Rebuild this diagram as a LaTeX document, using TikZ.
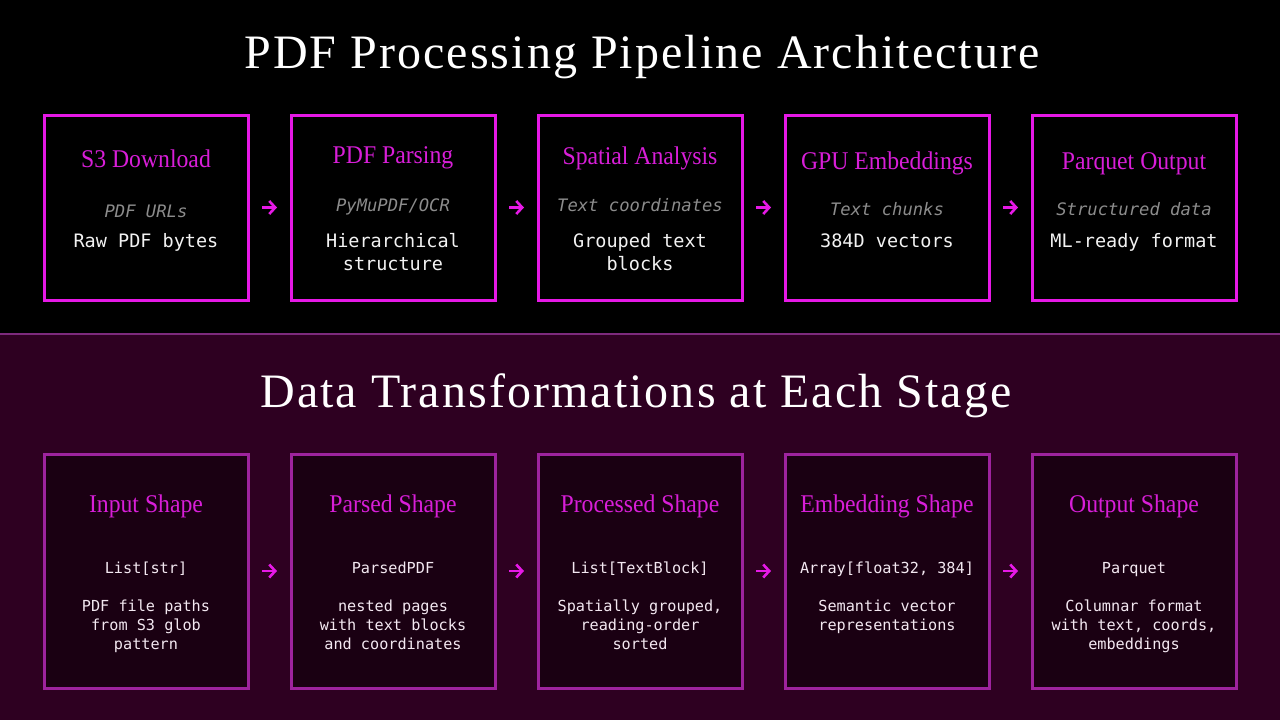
\documentclass[tikz,border=0pt]{standalone}
\usepackage{fontspec}
\setmainfont{Liberation Serif}
\setmonofont{DejaVu Sans Mono}
\usetikzlibrary{arrows.meta}
\definecolor{magtop}{HTML}{E619E6}
\definecolor{magtxt}{HTML}{D81ED8}
\definecolor{magbot}{HTML}{9E239E}
\definecolor{botbg}{HTML}{2E0021}
\definecolor{botfill}{HTML}{1A0012}
\definecolor{sepline}{HTML}{7D2A7D}
\definecolor{greytxt}{HTML}{8C8C8C}
\definecolor{whitetxt}{HTML}{F2F2F2}
\definecolor{pinkwhite}{HTML}{F3E8F1}
\newfontfamily\titlefont[LetterSpace=4.3]{Liberation Serif}
\newfontfamily\headfont[FakeStretch=0.93]{Liberation Serif}
\tikzset{
  topbox/.style={draw=magtop, line width=3pt, fill=black, minimum width=204pt, minimum height=185pt, inner sep=0pt, outer sep=0pt},
  botbox/.style={draw=magbot, line width=3pt, fill=botfill, minimum width=204pt, minimum height=234pt, inner sep=0pt, outer sep=0pt},
  bigtitle/.style={anchor=base, text=white, inner sep=0pt, font=\titlefont\fontsize{48}{52}\selectfont},
  boxhead/.style={anchor=base, text=magtxt, inner sep=0pt, font=\headfont\fontsize{25.5}{28}\selectfont},
  subital/.style={anchor=base, text=greytxt, inner sep=0pt, font=\ttfamily\itshape\fontsize{17.2}{20}\selectfont},
  maintxt/.style={anchor=base, text=whitetxt, inner sep=0pt, align=center, font=\ttfamily\fontsize{18.5}{23.3}\selectfont},
  typetxt/.style={anchor=base, text=pinkwhite, inner sep=0pt, font=\ttfamily\fontsize{15.2}{19}\selectfont},
  desctxt/.style={anchor=base, text=pinkwhite, inner sep=0pt, align=center, font=\ttfamily\fontsize{15.2}{19}\selectfont},
  flowarrow/.style={draw=magtop, line width=2.6pt, shorten <=14pt, shorten >=14pt, -{Straight Barb[length=6pt,width=13pt]}},
}
\begin{document}
\begin{tikzpicture}[x=1pt,y=-1pt]
\useasboundingbox (0,0) rectangle (1280,720);
\fill[black] (0,0) rectangle (1280,334);
\fill[botbg] (0,334) rectangle (1280,720);
\draw[sepline, line width=2.5pt] (0,334) -- (1280,334);

\node[bigtitle] (title1) at (642,68) {PDF Processing Pipeline Architecture};
\node[bigtitle] (title2) at (636,407) {Data Transformations at Each Stage};

% top boxes
\node[topbox] (t1) at (146,207.5) {};
\node[topbox] (t2) at (393,207.5) {};
\node[topbox] (t3) at (640,207.5) {};
\node[topbox] (t4) at (887,207.5) {};
\node[topbox] (t5) at (1134,207.5) {};

\node[boxhead] (t1h) at (146,167) {S3 Download};
\node[boxhead] (t2h) at (393,163) {PDF Parsing};
\node[boxhead] (t3h) at (640,164) {Spatial Analysis};
\node[boxhead] (t4h) at (887,169) {GPU Embeddings};
\node[boxhead] (t5h) at (1134,169) {Parquet Output};

\node[subital] (t1s) at (146,217) {PDF URLs};
\node[subital] (t2s) at (393,211) {PyMuPDF/OCR};
\node[subital] (t3s) at (640,211) {Text coordinates};
\node[subital] (t4s) at (887,215) {Text chunks};
\node[subital] (t5s) at (1134,215) {Structured data};

% base anchor of a multi-line node = baseline of its last line
\node[maintxt] (t1m) at (146,247) {Raw PDF bytes};
\node[maintxt] (t2m) at (393,270.3) {Hierarchical\\structure};
\node[maintxt] (t3m) at (640,270.3) {Grouped text\\blocks};
\node[maintxt] (t4m) at (887,247) {384D vectors};
\node[maintxt] (t5m) at (1134,247) {ML-ready format};

\draw[flowarrow] (t1.east) -- (t2.west);
\draw[flowarrow] (t2.east) -- (t3.west);
\draw[flowarrow] (t3.east) -- (t4.west);
\draw[flowarrow] (t4.east) -- (t5.west);

% bottom boxes
\node[botbox] (b1) at (146,571) {};
\node[botbox] (b2) at (393,571) {};
\node[botbox] (b3) at (640,571) {};
\node[botbox] (b4) at (887,571) {};
\node[botbox] (b5) at (1134,571) {};

\node[boxhead] (b1h) at (146,512) {Input Shape};
\node[boxhead] (b2h) at (393,512) {Parsed Shape};
\node[boxhead] (b3h) at (640,512) {Processed Shape};
\node[boxhead] (b4h) at (887,512) {Embedding Shape};
\node[boxhead] (b5h) at (1134,512) {Output Shape};

\node[typetxt] (b1t) at (146,573) {List[str]};
\node[typetxt] (b2t) at (393,573) {ParsedPDF};
\node[typetxt] (b3t) at (640,573) {List[TextBlock]};
\node[typetxt] (b4t) at (887,573) {Array[float32, 384]};
\node[typetxt] (b5t) at (1134,573) {Parquet};

\node[desctxt] (b1d) at (146,649.5) {PDF file paths\\from S3 glob\\pattern};
\node[desctxt] (b2d) at (393,649.5) {nested pages\\with text blocks\\and coordinates};
\node[desctxt] (b3d) at (640,649.5) {Spatially grouped,\\reading-order\\sorted};
\node[desctxt] (b4d) at (887,630.5) {Semantic vector\\representations};
\node[desctxt] (b5d) at (1134,649.5) {Columnar format\\with text, coords,\\embeddings};

\draw[flowarrow] (b1.east) -- (b2.west);
\draw[flowarrow] (b2.east) -- (b3.west);
\draw[flowarrow] (b3.east) -- (b4.west);
\draw[flowarrow] (b4.east) -- (b5.west);
\end{tikzpicture}
\end{document}
